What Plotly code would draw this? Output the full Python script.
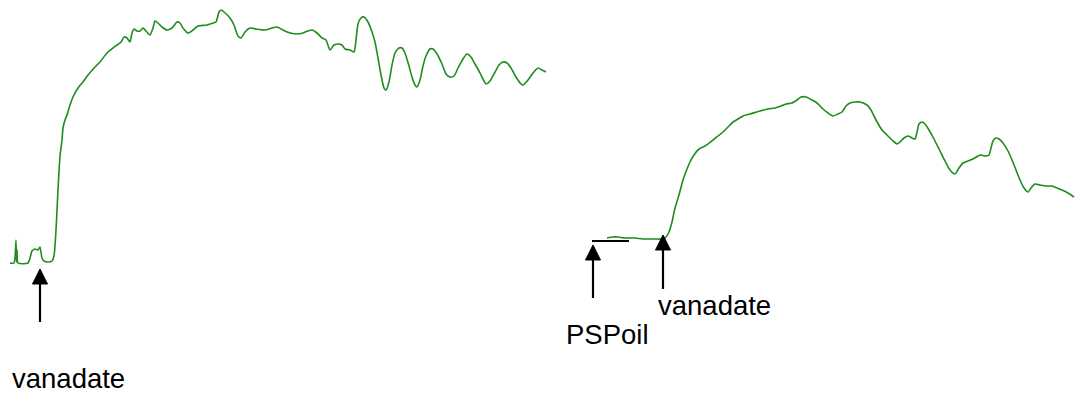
import plotly.graph_objects as go

# Trace A: fluorescence recording, vanadate added early
time_a = [10, 14, 15, 16, 16.5, 17, 18, 28, 30, 32, 35, 38, 40, 42, 44, 48, 52, 54,
          56, 58, 60, 62, 63, 65, 67, 70, 73, 78, 83, 88, 95, 100, 107, 113, 117,
          121, 124, 127, 130, 132, 134, 137, 140, 143, 146, 150, 153, 155, 158, 162,
          167, 172, 177, 180, 183, 188, 193, 198, 207, 213, 216, 219, 221, 224, 230,
          234, 238, 241, 245, 250, 256, 265, 272, 277, 287, 297, 303, 308, 312, 317,
          322, 326, 330, 334, 338, 342, 345, 350, 354, 356, 358, 361, 364, 368, 372,
          375, 378, 381, 384, 386, 389, 392, 395, 399, 402, 405, 409, 412, 415, 417,
          420, 423, 426, 430, 433, 437, 442, 446, 450, 454, 458, 463, 467, 471, 475,
          480, 484, 486, 490, 494, 499, 503, 507, 511, 516, 521, 523, 528, 533, 538,
          542, 546]
signal_a = [131, 131, 136, 154, 132, 144, 131, 131, 136, 143, 145, 144, 147, 136, 133,
            132, 133, 138, 164, 204, 238, 254, 266, 274, 279, 289, 297, 306, 312, 319,
            327, 332, 341, 346, 349, 352, 357, 356, 352, 361, 365, 363, 363, 366,
            363, 359, 366, 373, 371, 367, 364, 366, 372, 371, 366, 361, 364, 368, 369,
            371, 372, 382, 384, 382, 376, 369, 358, 356, 362, 366, 365, 364, 366, 367,
            362, 360, 361, 363, 364, 361, 356, 354, 344, 349, 350, 349, 345, 344, 342,
            354, 370, 376, 377, 372, 362, 352, 336, 319, 306, 304, 312, 329, 341, 346,
            346, 341, 328, 317, 309, 307, 314, 328, 338, 345, 345, 340, 330, 320, 317,
            318, 326, 335, 340, 337, 330, 321, 313, 310, 313, 320, 329, 332, 331, 326,
            317, 310, 309, 314, 321, 326, 324, 322]

# Trace B: fluorescence recording, PSPoil then vanadate
time_b = [607, 613, 618, 625, 635, 643, 655, 663, 666, 669, 672, 675, 679, 683, 687,
          690, 694, 699, 705, 713, 718, 723, 728, 733, 738, 743, 750, 760, 768, 775,
          781, 786, 792, 797, 801, 806, 812, 817, 823, 828, 833, 838, 842, 846, 850,
          855, 860, 867, 871, 876, 882, 887, 892, 897, 900, 904, 908, 912, 915, 917,
          919, 922, 925, 929, 934, 940, 945, 950, 955, 959, 963, 968, 973, 978, 981,
          985, 989, 991, 993, 996, 999, 1003, 1008, 1012, 1016, 1020, 1024, 1028,
          1031, 1035, 1040, 1047, 1052, 1057, 1062, 1068, 1074]
signal_b = [156, 157, 157, 156, 156, 155, 155, 155, 157, 162, 172, 186, 199, 214, 225,
            232, 239, 245, 248, 254, 258, 262, 267, 272, 275, 278, 280, 283, 285, 286,
            288, 290, 291, 294, 297, 297, 294, 291, 285, 281, 278, 280, 282, 288, 291,
            292, 292, 289, 284, 274, 264, 259, 254, 250, 252, 256, 258, 256, 255, 262,
            270, 272, 270, 264, 255, 243, 233, 224, 220, 226, 231, 233, 235, 238, 239,
            238, 239, 246, 253, 256, 255, 251, 243, 234, 224, 214, 206, 202, 206, 210,
            209, 208, 208, 206, 204, 201, 197]

# Additions marked with arrows: label, time, arrow tip, arrow tail, label position
event_labels = ["vanadate", "PSPoil", "vanadate"]
event_times = [40, 593, 663]
event_tips = [125, 149, 159]
event_tails = [72, 96, 105]
label_x = [68, 607, 714]
label_y = [16, 60, 89]

# Short baseline marker before PSPoil addition
baseline_start, baseline_end, baseline_level = 592, 629, 153

GREEN = "#1e8c1e"
HEAD_LEN = 15
HEAD_HALF = 7.5

fig = go.Figure()
for t, s in ((time_a, signal_a), (time_b, signal_b)):
    fig.add_trace(go.Scatter(
        x=t, y=s, mode="lines",
        line=dict(color=GREEN, width=1.6, shape="spline", smoothing=0.6),
        hoverinfo="skip", showlegend=False,
    ))

shapes = []
for t, tip, tail in zip(event_times, event_tips, event_tails):
    shapes.append(dict(type="line", x0=t, x1=t, y0=tail, y1=tip - HEAD_LEN + 2,
                       line=dict(color="black", width=2.2)))
    shapes.append(dict(
        type="path",
        path=f"M {t - HEAD_HALF} {tip - HEAD_LEN} L {t + HEAD_HALF} {tip - HEAD_LEN} L {t} {tip} Z",
        fillcolor="black", line=dict(color="black", width=1),
    ))
shapes.append(dict(type="line", x0=baseline_start, x1=baseline_end,
                   y0=baseline_level, y1=baseline_level,
                   line=dict(color="black", width=2)))

annotations = [
    dict(x=x, y=y, text=txt, showarrow=False, xanchor="center", yanchor="middle",
         font=dict(family="Liberation Sans, Arial, sans-serif", size=27.5, color="black"))
    for txt, x, y in zip(event_labels, label_x, label_y)
]

fig.update_layout(
    width=1079, height=394,
    margin=dict(l=0, r=0, t=0, b=0),
    paper_bgcolor="white", plot_bgcolor="white",
    xaxis=dict(range=[0, 1079], visible=False, fixedrange=True),
    yaxis=dict(range=[0, 394], visible=False, fixedrange=True),
    shapes=shapes, annotations=annotations,
)

fig.write_html("out.html", config={"displayModeBar": False})
